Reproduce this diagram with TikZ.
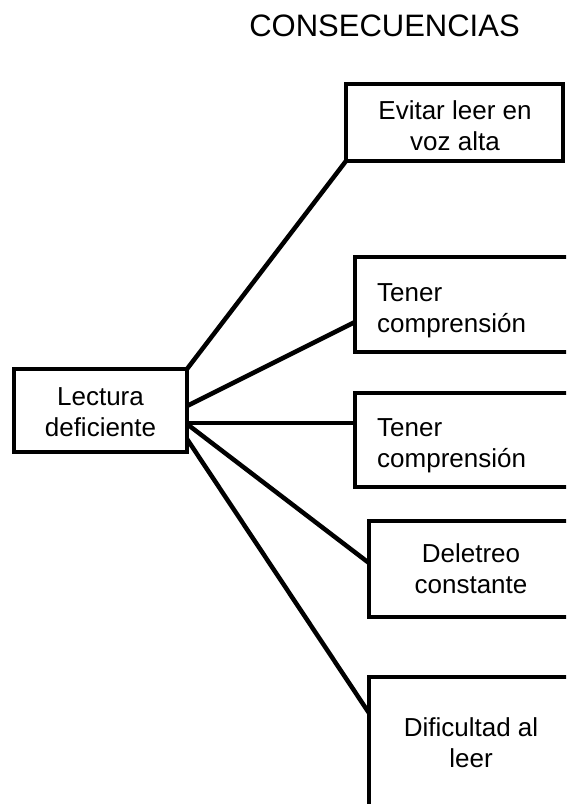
\documentclass[tikz,border=0pt]{standalone}
\usepackage{fontspec}
\setmainfont{Liberation Sans}
\begin{document}
\begin{tikzpicture}[x=1pt,y=-1pt,
  box/.style={draw=black, line width=4.5pt, outer sep=0pt, inner sep=0pt, fill=white},
  txt/.style={font=\fontsize{26}{31}\selectfont, inner sep=0pt, align=center},
  link/.style={draw=black, line width=4.5pt}]
\useasboundingbox (0,0) rectangle (566,804);
\clip (0,0) rectangle (566,804);
% title
\node[font=\fontsize{31}{37}\selectfont, inner sep=0pt] (title) at (384.5,26) {CONSECUENCIAS};
% boxes
\node[box, minimum width=173pt, minimum height=83pt] (lec) at (100.5,410.5) {};
\node[box, minimum width=217pt, minimum height=77pt] (ev) at (454.5,122.5) {};
\node[box, minimum width=225pt, minimum height=95pt] (t1) at (467.5,304.5) {};
\node[box, minimum width=225pt, minimum height=94pt] (t2) at (467.5,440) {};
\node[box, minimum width=204pt, minimum height=96pt] (del) at (471,569) {};
\node[box, minimum width=204pt, minimum height=153pt] (dif) at (471,753.5) {};
% connectors
\draw[link] (lec.north east) -- (ev.south west);
\draw[link] ([yshift=4.5pt]lec.east) -- ([yshift=-17.5pt]t1.west);
\draw[link] ([yshift=-12.5pt]lec.east) -- ([yshift=17pt]t2.west);
\draw[link] ([yshift=-13.5pt]lec.east) -- ([yshift=6pt]del.west);
\draw[link] ([yshift=-28.5pt]lec.east) -- ([yshift=40.5pt]dif.west);
% texts
\node[txt] (lect) at (100.5,411.7) {Lectura\\deficiente};
\node[txt] (evt) at (455,125.7) {Evitar leer en\\voz alta};
\node[txt, anchor=west, align=left] (t1t) at (377,311) {Tener\\comprensión};
\node[txt, anchor=west, align=left] (t2t) at (377,446) {Tener\\comprensión};
\node[txt] (delt) at (471,568.5) {Deletreo\\constante};
\node[txt] (dift) at (471,742.5) {Dificultad al\\leer};
\end{tikzpicture}
\end{document}
